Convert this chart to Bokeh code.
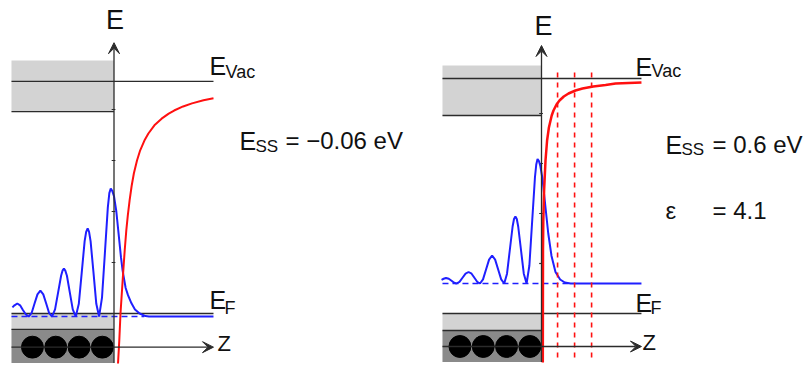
from bokeh.plotting import figure
from bokeh.layouts import row
from bokeh.models import Range1d, Label, Arrow, VeeHead
from bokeh.embed import file_html
from bokeh.resources import INLINE

# ---------------- data: z in units of the layer spacing, E in eV relative to E_F
ATOM_Z = [-3.5, -2.5, -1.5, -0.5]
TICKS_E = [1, 2, 3, 4]
UPPER_BAND = [3.96, 4.96]
CORE_BOTTOM = -0.97
Z_AXIS_E = -0.66

# left panel
L_EVAC = 4.55
L_ESS = -0.06
L_LIGHT_BOTTOM = -0.31
L_ZMIN, L_ZMAX = -4.4, 4.27
L_POT_Z = [0.172, 0.227, 0.279, 0.343, 0.39, 0.46, 0.528, 0.592, 0.67, 0.76, 0.854, 0.987,
           1.124, 1.305, 1.476, 1.734, 2.043, 2.348, 2.58, 2.966, 3.348, 3.84, 4.27]
L_POT_E = [-0.98, -0.53, 0.0, 0.45, 0.78, 1.24, 1.63, 1.92, 2.22, 2.51, 2.75, 3.0,
           3.2, 3.39, 3.53, 3.69, 3.82, 3.92, 3.98, 4.06, 4.12, 4.18, 4.22]
L_PSI_Z = [-4.36, -4.27, -4.15, -4.03, -3.91, -3.78, -3.66,
           -3.535, -3.41, -3.285, -3.16, -3.035, -2.91, -2.785, -2.66,
           -2.53, -2.40, -2.27, -2.21, -2.15, -2.09, -2.02, -1.895, -1.77, -1.64,
           -1.51, -1.385, -1.26, -1.195, -1.13, -1.07, -1.005, -0.88, -0.76, -0.64,
           -0.515, -0.39, -0.265, -0.20, -0.14, -0.07, 0.0, 0.1, 0.2, 0.3, 0.37,
           0.5, 0.6, 0.75, 0.9, 1.1, 1.35, 1.5, 4.27]
L_PSI_E = [0.12, 0.16, 0.196, 0.16, 0.07, -0.02, -0.06,
           0.01, 0.195, 0.375, 0.45, 0.375, 0.195, 0.01, -0.06,
           0.08, 0.41, 0.74, 0.84, 0.88, 0.84, 0.74, 0.41, 0.08, -0.06,
           0.19, 0.80, 1.42, 1.60, 1.67, 1.60, 1.42, 0.80, 0.19, -0.06,
           0.31, 1.19, 2.08, 2.36, 2.45, 2.40, 2.30, 2.0, 1.55, 1.1, 0.84,
           0.5, 0.36, 0.2, 0.08, 0.0, -0.05, -0.06, -0.06]
L_DASH_END = 1.3

# right panel
R_EVAC = 4.7
R_ESS = 0.6
R_EPS = 4.1
R_LIGHT_BOTTOM = -0.34
R_ZMIN, R_ZMAX = -4.25, 4.29
R_DOTTED_Z = [0.69, 1.42, 2.15]
R_DOTTED_TOP = 4.82
R_POT_Z = [0.056, 0.064, 0.077, 0.112, 0.172, 0.24, 0.318, 0.438, 0.515, 0.644, 0.773,
           0.957, 1.159, 1.459, 1.76, 2.22, 2.75, 3.18, 4.29]
R_POT_E = [-0.98, 1.26, 1.86, 2.46, 3.06, 3.46, 3.72, 3.96, 4.06, 4.18, 4.26,
           4.34, 4.40, 4.46, 4.50, 4.54, 4.57, 4.60, 4.62]
R_PSI_Z = [-4.29, -4.20, -4.10, -3.98, -3.86, -3.75, -3.65,
           -3.52, -3.39, -3.26, -3.13, -3.00, -2.88, -2.76, -2.64,
           -2.51, -2.38, -2.25, -2.12, -1.99, -1.86, -1.73, -1.60,
           -1.48, -1.36, -1.24, -1.18, -1.12, -1.06, -1.00, -0.88, -0.76, -0.64,
           -0.52, -0.40, -0.28, -0.225, -0.17, -0.11, -0.05, 0.04, 0.14, 0.29, 0.43,
           0.6, 0.8, 1.0, 1.25, 4.29]
R_PSI_E = [0.674, 0.695, 0.71, 0.695, 0.655, 0.615, 0.60,
           0.634, 0.715, 0.796, 0.83, 0.796, 0.715, 0.634, 0.60,
           0.682, 0.88, 1.078, 1.16, 1.078, 0.88, 0.682, 0.60,
           0.796, 1.27, 1.74, 1.89, 1.94, 1.89, 1.74, 1.27, 0.796, 0.60,
           0.96, 1.85, 2.73, 2.98, 3.09, 3.05, 2.95, 2.7, 2.26, 1.6, 1.15,
           0.83, 0.68, 0.62, 0.60, 0.60]
R_DASH_END = 1.15

# ---------------- layout constants (pixels)
H = 379
PX_Z = 23.3
FONT = "Liberation Sans"
LINE = "#2b2b2b"
LIGHT = "#d3d3d3"
DARK = "#8a8a8a"
RED = "#ff1010"
BLUE = "#1f1fff"
LIFT = 10  # text baseline correction


def make_fig(width, axis_px, px_e, ef_px):
    x0 = (0 - axis_px) / PX_Z
    x1 = (width - axis_px) / PX_Z
    y0 = -(H - ef_px) / px_e
    y1 = ef_px / px_e
    p = figure(width=width, height=H, x_range=Range1d(x0, x1), y_range=Range1d(y0, y1),
               output_backend="svg", toolbar_location=None, min_border=0)
    p.axis.visible = False
    p.grid.visible = False
    p.outline_line_color = None
    p.background_fill_color = "white"
    return p


def lbl(p, x, y, text, size, xo=0, yo=0, units="data", align="left"):
    p.add_layout(Label(x=x, y=y, x_units=units, y_units=units, text=text, x_offset=xo,
                       y_offset=yo + LIFT, text_font=FONT, text_font_size=f"{size}px",
                       text_color="#111111", text_baseline="alphabetic", text_align=align))


def draw_panel(p, zmin, zmax, evac, ess, light_bottom, pot_z, pot_e, psi_z, psi_e, dash_end,
               axis_top, pot_width):
    # bands
    p.quad(left=[zmin], right=[0], bottom=[UPPER_BAND[0]], top=[UPPER_BAND[1]],
           fill_color=LIGHT, line_color=None)
    p.quad(left=[zmin], right=[0], bottom=[light_bottom], top=[0],
           fill_color=LIGHT, line_color=None)
    p.quad(left=[zmin], right=[0], bottom=[CORE_BOTTOM], top=[light_bottom],
           fill_color=DARK, line_color=None)
    # level lines
    p.segment(x0=[zmin, zmin, zmin, zmin], x1=[zmax, 0, zmax, 0],
              y0=[evac, UPPER_BAND[0], 0, light_bottom], y1=[evac, UPPER_BAND[0], 0, light_bottom],
              line_color=LINE, line_width=1.3)
    # atoms and z axis
    p.add_layout(Arrow(end=VeeHead(size=11, fill_color=LINE, line_color=LINE, line_width=1),
                       x_start=zmin, y_start=Z_AXIS_E, x_end=zmax, y_end=Z_AXIS_E,
                       line_color=LINE, line_width=1.3))
    p.circle(x=ATOM_Z, y=[Z_AXIS_E] * len(ATOM_Z), radius=0.47, fill_color="black",
             line_color="black")
    # E axis
    p.add_layout(Arrow(end=VeeHead(size=11, fill_color=LINE, line_color=LINE, line_width=1),
                       x_start=0, y_start=CORE_BOTTOM, x_end=0, y_end=axis_top,
                       line_color=LINE, line_width=1.3))
    p.segment(x0=[-0.1] * len(TICKS_E), x1=[0.06] * len(TICKS_E), y0=TICKS_E, y1=TICKS_E,
              line_color=LINE, line_width=1.2)
    # surface state
    p.line([zmin, dash_end], [ess, ess], line_color=BLUE, line_width=1.6, line_dash="6 4")
    p.line(psi_z, psi_e, line_color=BLUE, line_width=2)
    # potential
    p.line(pot_z, pot_e, line_color=RED, line_width=pot_width)


# ---------------- left panel (page x 0..428)
pl = make_fig(428, 113.5, 51, 313)
draw_panel(pl, L_ZMIN, L_ZMAX, L_EVAC, L_ESS, L_LIGHT_BOTTOM, L_POT_Z, L_POT_E,
           L_PSI_Z, L_PSI_E, L_DASH_END, 5.31, 2)
lbl(pl, 0, 5.31, "E", 27, xo=1, yo=13, align="center")
lbl(pl, L_ZMAX, L_EVAC, "E", 25, xo=-4, yo=5)
lbl(pl, L_ZMAX, L_EVAC, "Vac", 18, xo=12, yo=-1)
lbl(pl, L_ZMAX, 0, "E", 25, xo=-4, yo=4)
lbl(pl, L_ZMAX, 0, "F", 18, xo=11, yo=-4)
lbl(pl, L_ZMAX, Z_AXIS_E, "Z", 22, xo=4, yo=-6)
lbl(pl, 239, 229, "E", 25, units="screen")
lbl(pl, 255, 223, "SS", 17, units="screen")
lbl(pl, 285, 229, f"= \u2212{abs(L_ESS):.2f} eV", 24, units="screen")

# ---------------- right panel (page x 428..803)
pr = make_fig(375, 541 - 428, 50, 313)
draw_panel(pr, R_ZMIN, R_ZMAX, R_EVAC, R_ESS, R_LIGHT_BOTTOM, R_POT_Z, R_POT_E,
           R_PSI_Z, R_PSI_E, R_DASH_END, 5.36, 2.5)
pr.segment(x0=R_DOTTED_Z, x1=R_DOTTED_Z, y0=[R_DOTTED_TOP] * 3, y1=[CORE_BOTTOM] * 3,
           line_color=RED, line_width=1.6, line_dash="5 5")
lbl(pr, 0, 5.36, "E", 27, xo=2, yo=10, align="center")
lbl(pr, R_ZMAX, R_EVAC, "E", 25, xo=-6, yo=2)
lbl(pr, R_ZMAX, R_EVAC, "Vac", 18, xo=10, yo=-2)
lbl(pr, R_ZMAX, 0, "E", 25, xo=-6, yo=1)
lbl(pr, R_ZMAX, 0, "F", 18, xo=9, yo=-4)
lbl(pr, R_ZMAX, Z_AXIS_E, "Z", 22, xo=1, yo=-6)
lbl(pr, 237, 225, "E", 25, units="screen")
lbl(pr, 253, 220, "SS", 17, units="screen")
lbl(pr, 284, 225, f"= {R_ESS} eV", 24, units="screen")
lbl(pr, 237, 159, "\u03b5", 24, units="screen")
lbl(pr, 284, 159, f"= {R_EPS}", 24, units="screen")

layout = row(pl, pr)
open("out.html", "w").write(file_html(layout, INLINE))
